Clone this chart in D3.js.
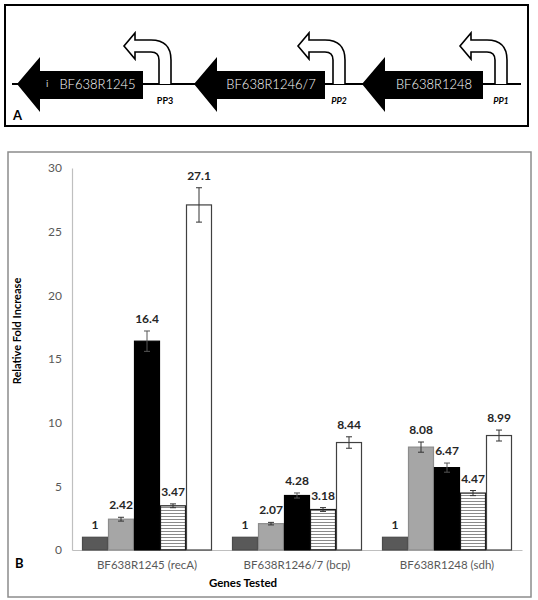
<!DOCTYPE html>
<html>
<head>
<meta charset="utf-8">
<script src="https://cdn.jsdelivr.net/npm/d3@7"></script>
<style>
  html, body { margin: 0; padding: 0; background: #fff; }
  svg { display: block; }
  text { font-family: Lato, "Open Sans", "Liberation Sans", sans-serif; }
</style>
</head>
<body>
<svg id="chart" width="538" height="600"></svg>
<script>
// ---------------- Data ----------------
// Panel A: gene map (map units along the locus)
const geneNames = ["BF638R1245", "BF638R1246/7", "BF638R1248"];
const geneTip   = [5, 182, 350];    // arrow tip (map units)
const geneEnd   = [131, 313, 471];  // body right end (map units)
const promoterNames = ["PP3", "PP2", "PP1"];
const promoterPos   = [147, 321, 483]; // inner stem (map units)
const promoterItalic = [false, true, true];

// Panel B: bar chart
const genes = ["BF638R1245 (recA)", "BF638R1246/7 (bcp)", "BF638R1248 (sdh)"];
const series1 = [1, 1, 1];
const series2 = [2.42, 2.07, 8.08];
const series3 = [16.4, 4.28, 6.47];
const series4 = [3.47, 3.18, 4.47];
const series5 = [27.1, 8.44, 8.99];
const err1 = [0, 0, 0];
const err2 = [0.15, 0.10, 0.40];
const err3 = [0.80, 0.20, 0.36];
const err4 = [0.15, 0.15, 0.20];
const err5 = [1.35, 0.45, 0.43];
const yTicks = [0, 5, 10, 15, 20, 25, 30];

const seriesValues = [series1, series2, series3, series4, series5];
const seriesErrors = [err1, err2, err3, err4, err5];

// ---------------- Drawing ----------------
const svg = d3.select("#chart");

// pattern for striped bars
const defs = svg.append("defs");
const pat = defs.append("pattern").attr("id", "stripes")
  .attr("patternUnits", "userSpaceOnUse").attr("width", 8).attr("height", 3);
pat.append("rect").attr("width", 8).attr("height", 3).attr("fill", "#fff");
pat.append("line").attr("x1", 0).attr("x2", 8).attr("y1", 0.5).attr("y2", 0.5)
  .attr("stroke", "#8a8a8a").attr("stroke-width", 1);

// ===== Panel A =====
const gA = svg.append("g");
gA.append("rect").attr("x", 5).attr("y", 5).attr("width", 523).attr("height", 121)
  .attr("fill", "#fff").attr("stroke", "#000").attr("stroke-width", 2);

const mapX = d3.scaleLinear().domain([0, 509]).range([12, 521]);
const baseY = 84;

gA.append("line").attr("x1", mapX(0)).attr("x2", mapX(509))
  .attr("y1", baseY).attr("y2", baseY).attr("stroke", "#000").attr("stroke-width", 2);

geneNames.forEach((name, i) => {
  const tip = mapX(geneTip[i]);
  const hb = tip + 23;
  const end = mapX(geneEnd[i]);
  const path = d3.path();
  path.moveTo(tip, baseY);
  path.lineTo(hb, baseY - 27);
  path.lineTo(hb, baseY - 13);
  path.lineTo(end, baseY - 13);
  path.lineTo(end, baseY + 15);
  path.lineTo(hb, baseY + 15);
  path.lineTo(hb, baseY + 28);
  path.closePath();
  gA.append("path").attr("d", path.toString()).attr("fill", "#000");
  const cx = (hb + end) / 2 + (i === 0 ? 6 : 0);
  gA.append("text").attr("x", cx).attr("y", baseY + 5)
    .attr("text-anchor", "middle").attr("fill", "#fff")
    .attr("font-size", 13).attr("font-weight", 300).text(name);
});
gA.append("text").attr("x", mapX(geneTip[0]) + 29).attr("y", baseY + 3)
  .attr("fill", "#ccc").attr("font-size", 10).text("i");

promoterNames.forEach((name, i) => {
  const xi = mapX(promoterPos[i]);
  const xo = xi + 12;
  const hb = xo - 36;
  const tip = xo - 47;
  const topO = 40, topI = 52;
  const p = d3.path();
  p.moveTo(xo, baseY);
  p.lineTo(xo, topO + 20);
  p.quadraticCurveTo(xo, topO, xo - 20, topO);
  p.lineTo(hb, topO);
  p.lineTo(hb, topO - 7);
  p.lineTo(tip, (topO + topI) / 2);
  p.lineTo(hb, topI + 7);
  p.lineTo(hb, topI);
  p.lineTo(xi - 8, topI);
  p.quadraticCurveTo(xi, topI, xi, topI + 8);
  p.lineTo(xi, baseY);
  gA.append("path").attr("d", p.toString()).attr("fill", "#fff")
    .attr("stroke", "#000").attr("stroke-width", 1.6).attr("stroke-linejoin", "miter");
  gA.append("text").attr("x", xi + 6).attr("y", baseY + 20)
    .attr("text-anchor", "middle").attr("font-size", 9).attr("font-weight", "bold")
    .attr("font-style", promoterItalic[i] ? "italic" : "normal")
    .attr("fill", "#000").text(name);
});
gA.append("text").attr("x", 13).attr("y", 120).attr("font-size", 13)
  .attr("font-weight", "bold").attr("fill", "#000").text("A");

// ===== Panel B =====
const gB = svg.append("g");
gB.append("rect").attr("x", 8).attr("y", 152).attr("width", 523).attr("height", 445)
  .attr("fill", "#fff").attr("stroke", "#8c8c8c").attr("stroke-width", 1.5);

const y = d3.scaleLinear().domain([0, 30]).range([550, 168]);
const x0 = d3.scaleBand().domain(genes).range([72, 522])
  .paddingInner(20 / 150).paddingOuter(10 / 150);
const x1 = d3.scaleBand().domain(d3.range(seriesValues.length))
  .range([0, x0.bandwidth()]).padding(0);

// axes
const yAxis = gB.append("g").attr("transform", "translate(72,0)")
  .call(d3.axisLeft(y).tickValues(yTicks).tickSize(0).tickPadding(10));
yAxis.select(".domain").attr("stroke", "#bfbfbf").attr("stroke-width", 1.2);
yAxis.selectAll("text").attr("font-size", 12).attr("fill", "#595959")
  .attr("font-family", "Lato, 'Open Sans', sans-serif");

const xAxis = gB.append("g").attr("transform", "translate(0,550)")
  .call(d3.axisBottom(x0).tickSize(0).tickPadding(11));
xAxis.select(".domain").attr("stroke", "#bfbfbf").attr("stroke-width", 1.2);
xAxis.selectAll("text").attr("font-size", 11.5).attr("fill", "#595959")
  .attr("font-family", "Lato, 'Open Sans', sans-serif");

const fills = ["#595959", "#a6a6a6", "#000000", "url(#stripes)", "#ffffff"];
const strokes = ["#4a4a4a", "#8c8c8c", "#000000", "#1a1a1a", "#404040"];

seriesValues.forEach((vals, s) => {
  const g = gB.append("g");
  vals.forEach((v, i) => {
    const bx = x0(genes[i]) + x1(s);
    const bw = x1.bandwidth();
    g.append("rect").attr("x", bx + 0.5).attr("y", y(v))
      .attr("width", bw - 1).attr("height", y(0) - y(v))
      .attr("fill", fills[s]).attr("stroke", strokes[s]).attr("stroke-width", 1.2);
    const e = seriesErrors[s][i];
    const cx = bx + bw / 2;
    if (e > 0) {
      g.append("line").attr("x1", cx).attr("x2", cx).attr("y1", y(v + e)).attr("y2", y(v - e))
        .attr("stroke", s === 2 ? "#555" : "#333").attr("stroke-width", 1);
      [v + e, v - e].forEach(t => {
        g.append("line").attr("x1", cx - 3).attr("x2", cx + 3).attr("y1", y(t)).attr("y2", y(t))
          .attr("stroke", s === 2 ? "#555" : "#333").attr("stroke-width", 1);
      });
    }
    gB.append("text").attr("x", cx).attr("y", y(v + e) - 8)
      .attr("text-anchor", "middle").attr("font-size", 12).attr("font-weight", "bold")
      .attr("fill", "#262626").text(v);
  });
});

// titles
gB.append("text").attr("transform", "translate(21,331) rotate(-90)")
  .attr("text-anchor", "middle").attr("font-size", 11).attr("font-weight", "bold")
  .attr("fill", "#000").text("Relative Fold Increase");
gB.append("text").attr("x", 243).attr("y", 587).attr("text-anchor", "middle")
  .attr("font-size", 11.5).attr("font-weight", "bold").attr("fill", "#000").text("Genes Tested");
gB.append("text").attr("x", 15).attr("y", 568).attr("font-size", 13)
  .attr("font-weight", "bold").attr("fill", "#000").text("B");
</script>
</body>
</html>
